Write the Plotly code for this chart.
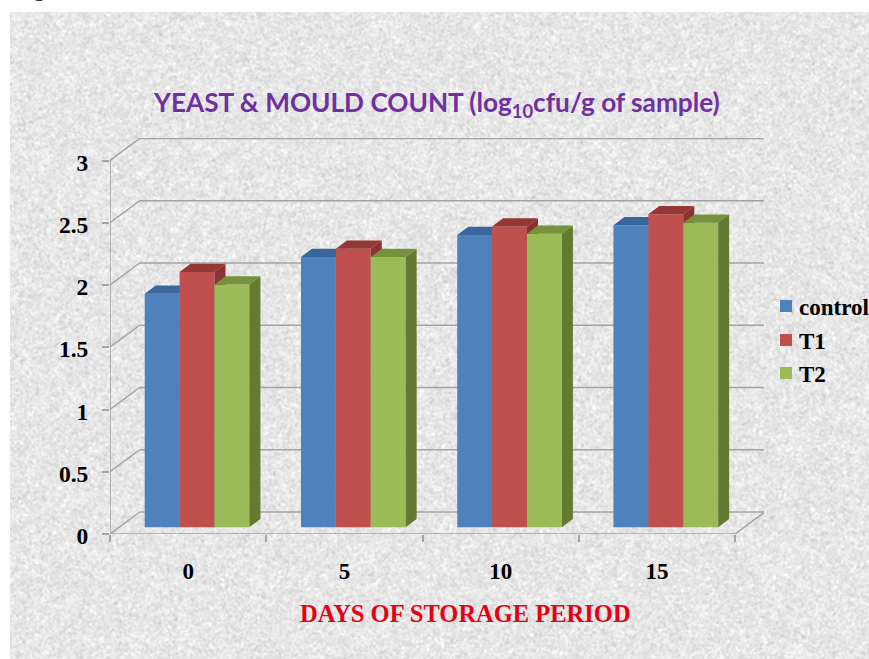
import base64
import struct
import zlib

import numpy as np
import plotly.graph_objs as go

# data
days = ['0', '5', '10', '15']
control = [1.875, 2.17, 2.347, 2.426]
t1 = [2.05, 2.236, 2.415, 2.514]
t2 = [1.95, 2.17, 2.357, 2.445]
y_ticks = [0, 0.5, 1, 1.5, 2, 2.5, 3]
y_labels = ['0', '0.5', '1', '1.5', '2', '2.5', '3']

# fake 3d geometry, in axis units
PX_X = 156.25   # pixels per category
PX_Y = 124.5    # pixels per y unit
wall_dx, wall_dy = 29.7 / PX_X, 22.0 / PX_Y   # depth of the whole box
bar_dx, bar_dy = 11.0 / PX_X, 8.2 / PX_Y      # depth of one bar
floor_lift = 6.8 / PX_Y
bar_w = 34.9 / PX_X
group_pad = 34.7 / PX_X

GRID = '#a3a3a3'
SERIF = 'Liberation Serif'
PLOT_W, PLOT_H = 654, 396
LEFT, TOP = 110, 138


def noise_png(w, h):
    # speckled paper texture for the background, encoded by hand so only numpy is needed
    rng = np.random.default_rng(7)
    fine = rng.normal(0, 1, (h, w))
    blur = sum(np.roll(np.roll(fine, i, 0), j, 1) for i in (-1, 0, 1) for j in (-1, 0, 1)) / 3
    coarse = rng.normal(0, 1, (h // 8 + 2, w // 8 + 2))
    coarse = np.kron(coarse, np.ones((8, 8)))[:h, :w]
    grey = np.clip(231 + 6 * blur + 1.5 * fine + 2 * coarse, 0, 255).astype(np.uint8)
    raw = b''.join(b'\x00' + row.tobytes() for row in grey)

    def chunk(tag, body):
        return struct.pack('>I', len(body)) + tag + body + struct.pack('>I', zlib.crc32(tag + body))

    png = b'\x89PNG\r\n\x1a\n' + chunk(b'IHDR', struct.pack('>IIBBBBB', w, h, 8, 0, 0, 0, 0))
    png += chunk(b'IDAT', zlib.compress(raw, 9)) + chunk(b'IEND', b'')
    return 'data:image/png;base64,' + base64.b64encode(png).decode()


def depth_faces(left, vals):
    # top and side parallelograms of one series
    top_x, top_y, side_x, side_y = [], [], [], []
    for x0, v in zip(left, vals):
        x1 = x0 + bar_w
        y0 = floor_lift
        y1 = floor_lift + v
        top_x += [x0, x1, x1 + bar_dx, x0 + bar_dx, x0, None]
        top_y += [y1, y1, y1 + bar_dy, y1 + bar_dy, y1, None]
        side_x += [x1, x1 + bar_dx, x1 + bar_dx, x1, x1, None]
        side_y += [y0, y0 + bar_dy, y1 + bar_dy, y1, y0, None]
    return top_x, top_y, side_x, side_y


def px_x(px):
    return (px - LEFT) / PLOT_W


def px_y(px):
    return 1 - (px - TOP) / PLOT_H


series = [
    ('control', control, '#4f81bd', '#3a679b', '#3a679b', ''),
    ('T1', t1, '#c0504d', '#953735', '#8a3331', '2'),
    ('T2', t2, '#9bbb59', '#76923c', '#647a30', '3'),
]

fig = go.Figure()
n = len(days)

# each series sits on its own overlaying axes so later bars cover earlier side faces
for i, (name, vals, front, top, side, ax) in enumerate(series):
    left = [k + group_pad + i * bar_w for k in range(n)]
    top_x, top_y, side_x, side_y = depth_faces(left, vals)
    fig.add_trace(go.Bar(
        x=[l + bar_w / 2 for l in left], y=vals, base=floor_lift, width=bar_w,
        name=name, marker=dict(color=front, line=dict(width=0)),
        xaxis='x' + ax, yaxis='y' + ax
    ))
    for fx, fy, col in ((top_x, top_y, top), (side_x, side_y, side)):
        fig.add_trace(go.Scatter(
            x=fx, y=fy, mode='lines', fill='toself', fillcolor=col,
            line=dict(width=0), showlegend=False, hoverinfo='skip',
            xaxis='x' + ax, yaxis='y' + ax
        ))

# walls and floor
shapes = []
def wall_line(x0, y0, x1, y1):
    shapes.append(dict(type='line', xref='x', yref='y', x0=x0, y0=y0, x1=x1, y1=y1,
                       layer='below', line=dict(color=GRID, width=1.5)))

for v in y_ticks:
    wall_line(0, v, wall_dx, v + wall_dy)
    wall_line(wall_dx, v + wall_dy, n + wall_dx, v + wall_dy)
wall_line(0, 0, 0, y_ticks[-1])
wall_line(0, 0, n, 0)
wall_line(n, 0, n + wall_dx, wall_dy)

# hand drawn legend, the built in one leaves too wide a gap after the swatch
annotations = []
for (name, vals, front, top, side, ax), row in zip(series, (306, 340, 373)):
    shapes.append(dict(type='rect', xref='paper', yref='paper',
                       x0=px_x(780), x1=px_x(792), y0=px_y(row + 6), y1=px_y(row - 6),
                       fillcolor=front, line=dict(width=0)))
    annotations.append(dict(text=name, xref='paper', yref='paper', x=px_x(797), y=px_y(row + 1),
                            showarrow=False, xanchor='left', yanchor='middle',
                            font=dict(family=SERIF, size=23, color='black', weight='bold')))

annotations += [
    dict(text='YEAST &amp; MOULD COUNT (log<sub>10</sub>cfu/g of sample)',
         xref='paper', yref='paper', x=px_x(436.5), y=px_y(104), showarrow=False,
         xanchor='center', yanchor='middle',
         font=dict(family='Lato', size=26.2, color='#7030a0', weight='bold')),
    dict(text='DAYS OF STORAGE PERIOD',
         xref='paper', yref='paper', x=px_x(465), y=px_y(613), showarrow=False,
         xanchor='center', yanchor='middle',
         font=dict(family=SERIF, size=24.5, color='#e60012', weight='bold')),
    dict(text='Fig', xref='paper', yref='paper', x=px_x(10), y=px_y(3), showarrow=False,
         xanchor='left', yanchor='bottom',
         font=dict(family=SERIF, size=24, color='#333333', weight='bold')),
]

x_range = [0, PLOT_W / PX_X]
y_range = [0, PLOT_H / PX_Y]
axis_hidden = dict(visible=False, range=x_range)

fig.update_layout(
    width=869, height=659,
    margin=dict(l=LEFT, r=869 - LEFT - PLOT_W, t=TOP, b=659 - TOP - PLOT_H, autoexpand=False, pad=0),
    paper_bgcolor='white', plot_bgcolor='rgba(0,0,0,0)',
    showlegend=False,
    shapes=shapes,
    images=[dict(
        source=noise_png(859, 647), xref='paper', yref='paper', layer='below',
        x=px_x(10), y=px_y(12), sizex=859 / PLOT_W, sizey=647 / PLOT_H,
        xanchor='left', yanchor='top', sizing='stretch'
    )],
    xaxis=dict(
        range=x_range, showgrid=False, zeroline=False, showline=False,
        tickmode='array', tickvals=[k + 0.5 for k in range(n)], ticktext=days,
        ticks='', tickfont=dict(family=SERIF, size=23, color='black', weight='bold'),
        ticklabelstandoff=21,
        minor=dict(tickmode='array', tickvals=list(range(n + 1)), ticks='outside',
                   ticklen=7, tickcolor=GRID, tickwidth=1.5, showgrid=False)
    ),
    yaxis=dict(
        range=y_range, showgrid=False, zeroline=False, showline=False,
        tickmode='array', tickvals=y_ticks, ticktext=y_labels,
        ticks='outside', ticklen=7, tickcolor=GRID, tickwidth=1.5,
        tickfont=dict(family=SERIF, size=23.5, color='black', weight='bold'),
        ticklabelstandoff=9, ticklabelshift=2
    ),
    xaxis2=dict(overlaying='x', **axis_hidden),
    yaxis2=dict(overlaying='y', visible=False, range=y_range),
    xaxis3=dict(overlaying='x', **axis_hidden),
    yaxis3=dict(overlaying='y', visible=False, range=y_range),
    annotations=annotations,
)

fig.write_html("out.html", config=dict(displayModeBar=False),
               post_script="document.body.style.margin='0';")
